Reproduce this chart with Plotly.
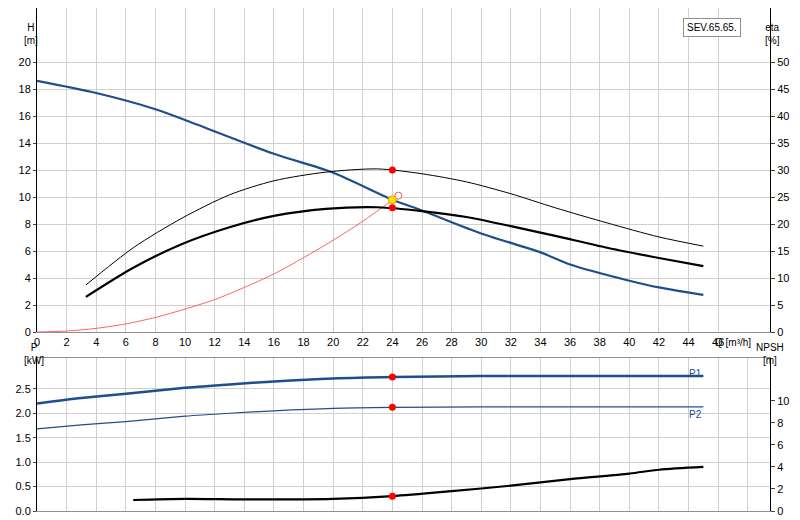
import plotly.graph_objects as go

# Q-H curve
q_h = [0, 4, 8, 10, 16, 20, 24, 26, 30, 34, 36, 40, 42, 45]
h = [18.6, 17.7, 16.5, 15.7, 13.2, 11.8, 9.8, 9.0, 7.3, 5.9, 5.0, 3.8, 3.3, 2.75]
# efficiency curves [%]
q_eta = [3.3, 6.5, 9.8, 13, 16, 19.5, 23, 26, 29, 32, 35, 38.5, 42, 45]
eta_thick = [6.5, 11.9, 16.3, 19.4, 21.5, 22.8, 23.1, 22.4, 21.3, 19.6, 17.8, 15.6, 13.7, 12.2]
eta_thin = [8.7, 15.6, 21.1, 25.4, 28.0, 29.6, 30.2, 29.3, 27.8, 25.6, 23.0, 20.2, 17.6, 15.9]
# system curve
q_sys = [0, 2, 4, 6, 8, 10, 12, 14, 16, 18, 20, 22, 24.4]
h_sys = [0, 0.07, 0.27, 0.6, 1.08, 1.7, 2.4, 3.3, 4.3, 5.5, 6.8, 8.2, 10.1]
# power curves [kW]
q_p = [0, 3, 6, 10, 13, 16, 20, 24, 30, 36, 45]
p1 = [2.2, 2.31, 2.4, 2.52, 2.59, 2.65, 2.71, 2.74, 2.76, 2.76, 2.76]
p2 = [1.68, 1.76, 1.83, 1.94, 2.0, 2.05, 2.1, 2.12, 2.13, 2.13, 2.13]
# NPSH [m]
q_npsh = [6.5, 10, 14, 20, 24, 28, 32, 36, 40, 42, 45]
npsh = [1.0, 1.1, 1.05, 1.1, 1.35, 1.8, 2.3, 2.9, 3.4, 3.75, 4.0]
q_duty = 24

sp = dict(shape="spline", smoothing=0.8)
fig = go.Figure()
fig.add_trace(go.Scatter(x=q_h, y=h, mode="lines", line=dict(color="#1f4e8c", width=2.2, **sp), xaxis="x", yaxis="y"))
fig.add_trace(go.Scatter(x=q_sys, y=h_sys, mode="lines", line=dict(color="#ff3b3b", width=0.8, **sp), xaxis="x", yaxis="y"))
fig.add_trace(go.Scatter(x=q_eta, y=eta_thin, mode="lines", line=dict(color="black", width=1, **sp), xaxis="x", yaxis="y2"))
fig.add_trace(go.Scatter(x=q_eta, y=eta_thick, mode="lines", line=dict(color="black", width=2.2, **sp), xaxis="x", yaxis="y2"))
fig.add_trace(go.Scatter(x=[q_duty, q_duty], y=[30, 23], mode="markers",
                         marker=dict(color="red", size=7), xaxis="x", yaxis="y2"))
fig.add_trace(go.Scatter(x=[24.4], y=[10.1], mode="markers",
                         marker=dict(color="white", size=7, line=dict(color="#ff5050", width=1)), xaxis="x", yaxis="y"))
fig.add_trace(go.Scatter(x=[q_duty], y=[9.8], mode="markers",
                         marker=dict(color="#ffe000", size=8, line=dict(color="#e0a000", width=1)), xaxis="x", yaxis="y"))

fig.add_trace(go.Scatter(x=q_p, y=p1, mode="lines", line=dict(color="#1f4e8c", width=2.5, **sp), xaxis="x2", yaxis="y3"))
fig.add_trace(go.Scatter(x=q_p, y=p2, mode="lines", line=dict(color="#1f4e8c", width=1.2, **sp), xaxis="x2", yaxis="y3"))
fig.add_trace(go.Scatter(x=q_npsh, y=npsh, mode="lines", line=dict(color="black", width=2.2, **sp), xaxis="x2", yaxis="y4"))
fig.add_trace(go.Scatter(x=[q_duty, q_duty], y=[2.74, 2.12], mode="markers",
                         marker=dict(color="red", size=7), xaxis="x2", yaxis="y3"))
fig.add_trace(go.Scatter(x=[q_duty], y=[1.35], mode="markers",
                         marker=dict(color="red", size=7), xaxis="x2", yaxis="y4"))

x0, x1 = 29 / 800, 762 / 800
top_dom = [(520 - 324) / 520, 1]
bot_dom = [(520 - 503) / 520, (520 - 350) / 520]
grid = "#d0d0d0"
tf = dict(size=11, color="black")
xcommon = dict(range=[0, 49.5], dtick=2, gridcolor=grid, zeroline=False, domain=[x0, x1],
               showline=True, linecolor="#909090", mirror=True, tickfont=tf, ticks="")

fig.update_layout(
    width=800, height=520, margin=dict(l=0, r=0, t=0, b=0, autoexpand=False),
    paper_bgcolor="white", plot_bgcolor="white", showlegend=False,
    font=dict(family="Arial", size=11, color="black"),
    xaxis=dict(xcommon, anchor="y", tickvals=list(range(0, 47, 2))),
    xaxis2=dict(xcommon, anchor="y3", showticklabels=False),
    yaxis=dict(range=[0, 24], tickvals=list(range(0, 21, 2)), domain=top_dom, gridcolor=grid,
               zeroline=False, showline=True, linecolor="black", tickfont=tf, ticks="outside",
               ticklen=3, anchor="x"),
    yaxis2=dict(range=[0, 60], tickvals=list(range(0, 51, 5)), overlaying="y", side="right",
                showgrid=False, zeroline=False, showline=True, linecolor="black", tickfont=tf,
                ticks="outside", ticklen=4, anchor="x"),
    yaxis3=dict(range=[0, 3.13], tickvals=[0, 0.5, 1.0, 1.5, 2.0, 2.5], ticktext=["0.0", "0.5", "1.0", "1.5", "2.0", "2.5"],
                domain=bot_dom, gridcolor=grid, zeroline=False, showline=True, linecolor="black",
                tickfont=tf, ticks="outside", ticklen=3, anchor="x2"),
    yaxis4=dict(range=[0, 13.9], tickvals=list(range(0, 11, 2)), overlaying="y3", side="right",
                showgrid=False, zeroline=False, showline=True, linecolor="black", tickfont=tf,
                ticks="outside", ticklen=4, anchor="x2"),
)

ann = [
    (14, 12, "H<br>[m]"), (774, 12, "eta<br>[%]"),
    (745, 334, "Q [m³/h]"), (14, 360, "P<br>[kW]"),
    (778, 360, "NPSH<br>[m]"), (696, 373, "P1"), (696, 414, "P2"),
]
for x, y, t in ann:
    fig.add_annotation(x=x / 800, y=1 - y / 520, xref="paper", yref="paper", text=t, showarrow=False,
                       font=dict(size=10, color="#1f4e8c" if t in ("P1", "P2") else "black"))
fig.add_annotation(x=733 / 800, y=1 - 10 / 520, xref="paper", yref="paper", text="SEV.65.65.",
                   showarrow=False, font=dict(size=10), bgcolor="white", bordercolor="#909090",
                   borderwidth=1, borderpad=3)

fig.write_html("out.html")
